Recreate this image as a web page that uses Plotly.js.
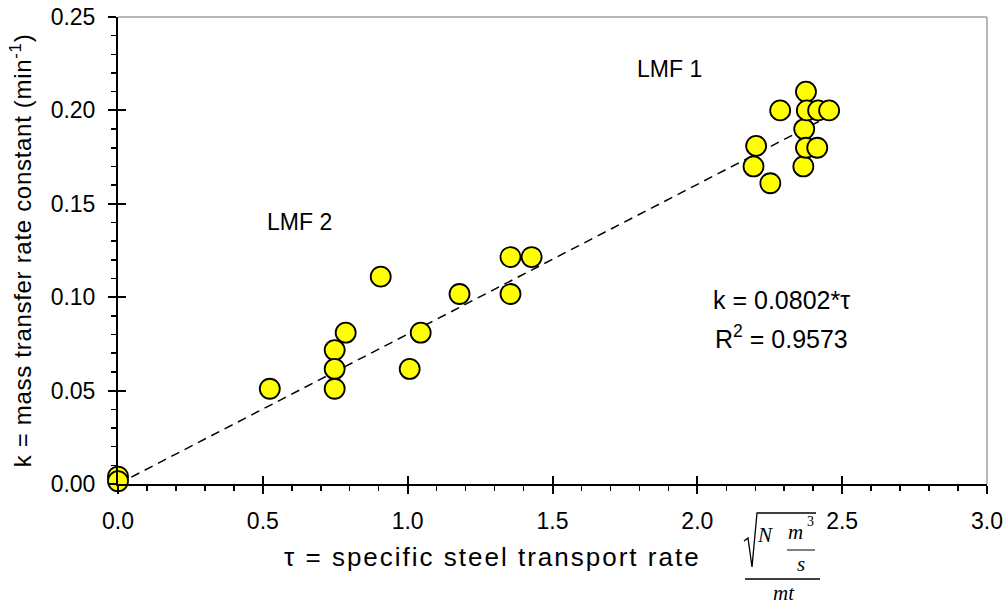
<!DOCTYPE html>
<html>
<head>
<meta charset="utf-8">
<script src="https://cdn.plot.ly/plotly-3.0.1.min.js"></script>
<style>
html,body{margin:0;padding:0;background:#fff;}
#chart{width:1006px;height:604px;}
#chart .annotation[data-index="0"] text{letter-spacing:2px;}
#chart .ytitle{letter-spacing:0.7px;}
</style>
</head>
<body>
<div id="chart"></div>
<script>
// ---- data ----
const tau = [0, 0, 0.524, 0.748, 0.748, 0.748, 0.786, 0.907, 1.007, 1.045, 1.179, 1.355, 1.355, 1.428,
             2.194, 2.203, 2.252, 2.286, 2.366, 2.369, 2.375, 2.375, 2.378, 2.414, 2.417, 2.455];
const kVals = [0.004, 0.0015, 0.051, 0.0717, 0.0616, 0.051, 0.081, 0.111, 0.0616, 0.081, 0.1017, 0.1017, 0.1215, 0.1215,
               0.170, 0.181, 0.161, 0.200, 0.170, 0.190, 0.210, 0.180, 0.200, 0.180, 0.200, 0.200];
const fitX = [0, 2.44];
const fitY = [0, 0.1957];
const xTicks = [0, 0.5, 1.0, 1.5, 2.0, 2.5, 3.0];
const yTicks = [0, 0.05, 0.10, 0.15, 0.20, 0.25];
const groupLabels = ["LMF 1", "LMF 2"];
const fitLabel = "k = 0.0802*τ";
const r2Label = "R<sup>2</sup> = 0.9573";
const xTitle = "τ = specific steel transport rate";
const yTitle = "k = mass transfer rate constant (min<sup>-1</sup>)";

// ---- layout helpers ----
const W = 1006, H = 604, ML = 118, MR = 19, MT = 17, MB = 120;
const PW = W - ML - MR, PH = H - MT - MB;
const fx = px => (px - ML) / PW;
const fy = py => (H - MB - py) / PH;
const FONT = "Liberation Sans, Arial, sans-serif";
const SERIF = "Liberation Serif, Times New Roman, serif";
const FS = 23;

const traces = [
  {x: fitX, y: fitY, type: 'scatter', mode: 'lines',
   line: {color: '#000', width: 1.5, dash: '9px,6px'}, hoverinfo: 'skip', showlegend: false},
  {x: tau, y: kVals, type: 'scatter', mode: 'markers',
   marker: {size: 20, color: '#ffff00', line: {color: '#000', width: 1.8}},
   cliponaxis: false, showlegend: false},
  {x: [null], y: [null], xaxis: 'x2', yaxis: 'y2', type: 'scatter', mode: 'markers', showlegend: false, hoverinfo: 'skip'}
];

const axisCommon = {
  showgrid: false, zeroline: false, showline: true, linecolor: '#000', linewidth: 2,
  ticks: 'outside', ticklen: 8, tickwidth: 2, tickcolor: '#000',
  tickfont: {family: FONT, size: FS, color: '#000'}
};

function ann(text, x, y, xref, yref, font) {
  return {text: text, x: x, y: y, xref: xref, yref: yref, showarrow: false,
          xanchor: 'center', yanchor: 'middle', borderpad: 0, font: font};
}
const sansF = {family: FONT, size: FS, color: '#000'};
const statF = {family: FONT, size: 25, color: '#000'};
const serifF = {family: SERIF, size: 21, color: '#000'};

const layout = {
  width: W, height: H,
  margin: {l: ML, r: MR, t: MT, b: MB, autoexpand: false},
  paper_bgcolor: '#fff', plot_bgcolor: '#fff',
  showlegend: false,
  xaxis: Object.assign({}, axisCommon, {
    range: [0, 3], tickvals: xTicks, ticktext: xTicks.map(v => v.toFixed(1)),
    ticklabelstandoff: 7,
    minor: {dtick: 0.1, tick0: 0, ticks: 'outside', ticklen: 5, tickwidth: 1.5, tickcolor: '#000'}
  }),
  yaxis: Object.assign({}, axisCommon, {
    range: [0, 0.25], tickvals: yTicks, ticktext: yTicks.map(v => v.toFixed(2)),
    ticklabelstandoff: 8,
    minor: {dtick: 0.01, tick0: 0, ticks: 'outside', ticklen: 5, tickwidth: 1.5, tickcolor: '#000'},
    title: {text: yTitle, font: {family: FONT, size: 24, color: '#000'}, standoff: 12}
  }),
  xaxis2: {overlaying: 'x', anchor: 'y', side: 'bottom', range: [0, 3], tickvals: xTicks,
    ticks: 'inside', ticklen: 8, tickwidth: 2, tickcolor: '#000', showticklabels: false,
    showgrid: false, zeroline: false, showline: false},
  yaxis2: {overlaying: 'y', anchor: 'x', side: 'left', range: [0, 0.25], tickvals: yTicks,
    ticks: 'inside', ticklen: 8, tickwidth: 2, tickcolor: '#000', showticklabels: false,
    showgrid: false, zeroline: false, showline: false},
  shapes: [
    {type: 'line', xref: 'paper', yref: 'paper', x0: 0, x1: 1, y0: 1, y1: 1, line: {color: '#a0a0a0', width: 1.5}},
    {type: 'line', xref: 'paper', yref: 'paper', x0: 1, x1: 1, y0: 0, y1: 1, line: {color: '#a0a0a0', width: 1.5}},
    // radical sign
    {type: 'path', xref: 'paper', yref: 'paper',
     path: `M ${fx(744)} ${fy(541)} L ${fx(748)} ${fy(538)} L ${fx(752)} ${fy(567)} L ${fx(757)} ${fy(513)} L ${fx(816)} ${fy(513)}`,
     line: {color: '#000', width: 1.3}},
    // inner fraction bar (m^3 / s)
    {type: 'line', xref: 'paper', yref: 'paper', x0: fx(787), x1: fx(815), y0: fy(550), y1: fy(550), line: {color: '#000', width: 1}},
    // outer fraction bar
    {type: 'line', xref: 'paper', yref: 'paper', x0: fx(745), x1: fx(820), y0: fy(579), y1: fy(579), line: {color: '#000', width: 1.3}}
  ],
  annotations: [
    ann(xTitle, fx(492), fy(557), 'paper', 'paper', {family: FONT, size: 26, color: '#000'}),
    ann(groupLabels[0], 1.903, 0.222, 'x', 'y', sansF),
    ann(groupLabels[1], 0.628, 0.140, 'x', 'y', sansF),
    ann(fitLabel, 2.29, 0.0987, 'x', 'y', statF),
    ann(r2Label, 2.29, 0.0785, 'x', 'y', statF),
    // unit formula parts
    ann('<i>N</i>', fx(765), fy(535), 'paper', 'paper', serifF),
    ann('<i>m</i>', fx(795), fy(532), 'paper', 'paper', serifF),
    ann('3', fx(810), fy(521), 'paper', 'paper', {family: SERIF, size: 14, color: '#000'}),
    ann('<i>s</i>', fx(801), fy(564), 'paper', 'paper', serifF),
    ann('<i>mt</i>', fx(784), fy(593), 'paper', 'paper', serifF)
  ]
};

Plotly.newPlot('chart', traces, layout, {displayModeBar: false, staticPlot: true});
</script>
</body>
</html>
